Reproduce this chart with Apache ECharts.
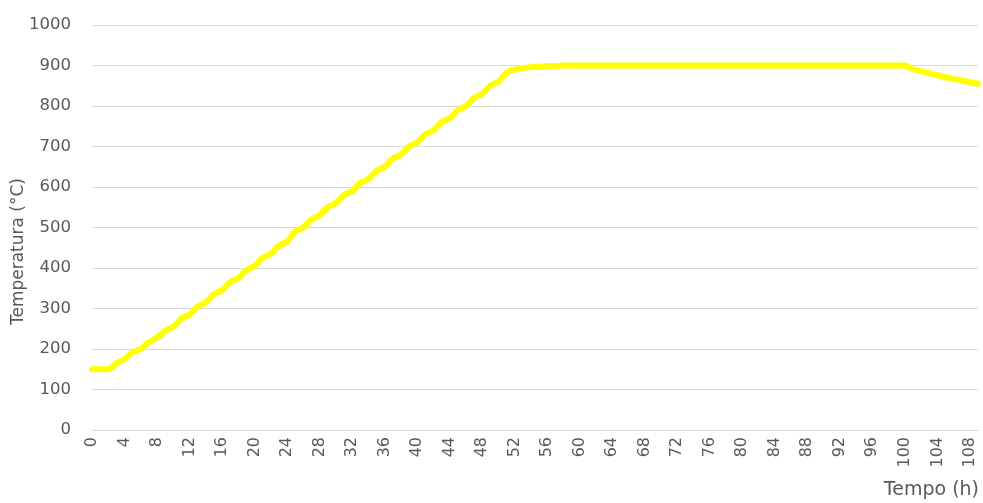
<!DOCTYPE html>
<html>
<head>
<meta charset="utf-8">
<script src="https://cdn.jsdelivr.net/npm/echarts@6/dist/echarts.min.js"></script>
<style>
  html, body { margin: 0; padding: 0; background: #fff; }
  #chart { width: 983px; height: 503px; }
</style>
</head>
<body>
<div id="chart"></div>
<script>
// Hours of the heating schedule (0 .. 109 h)
const hours = [];
for (let h = 0; h <= 109; h++) hours.push(String(h));

// Furnace temperature (°C) at each hour
const temperature = [
  150, 150, 150, 165, 175, 192, 200, 217, 228, 245,
  255, 275, 285, 305, 315, 335, 345, 365, 375, 395,
  405, 425, 435, 455, 465, 490, 500, 520, 530, 550,
  560, 580, 590, 610, 620, 640, 650, 670, 680, 700,
  710, 730, 740, 760, 770, 790, 800, 820, 830, 850,
  860, 882, 890, 894, 896, 897, 898, 899, 900, 900,
  900, 900, 900, 900, 900, 900, 900, 900, 900, 900,
  900, 900, 900, 900, 900, 900, 900, 900, 900, 900,
  900, 900, 900, 900, 900, 900, 900, 900, 900, 900,
  900, 900, 900, 900, 900, 900, 900, 900, 900, 900,
  900, 891, 886, 881, 876, 871, 867, 863, 859, 855
];

const yTicks = { min: 0, max: 1000, step: 100 };
const xAxisTitle = 'Tempo (h)';
const yAxisTitle = 'Temperatura (°C)';

const font = 'DejaVu Sans, sans-serif';
const textColor = '#595959';
const gridColor = '#d9d9d9';

const chart = echarts.init(document.getElementById('chart'));
chart.setOption({
  animation: false,
  grid: { left: 92, right: 5, top: 25, bottom: 73, containLabel: false },
  xAxis: {
    type: 'category',
    data: hours,
    boundaryGap: false,
    axisLine: { show: true, lineStyle: { color: gridColor, width: 1 } },
    axisTick: { show: false },
    axisLabel: {
      interval: 3,
      rotate: 90,
      color: textColor,
      fontFamily: font,
      fontSize: 16,
      margin: 7
    },
    splitLine: { show: false }
  },
  yAxis: {
    type: 'value',
    min: yTicks.min,
    max: yTicks.max,
    interval: yTicks.step,
    axisLine: { show: false },
    axisTick: { show: false },
    axisLabel: {
      color: textColor,
      fontFamily: font,
      fontSize: 16.5,
      margin: 21,
      formatter: (v) => String(v)
    },
    splitLine: { lineStyle: { color: gridColor, width: 1 } }
  },
  graphic: [
    {
      type: 'text',
      right: 4,
      top: 481,
      style: { text: xAxisTitle, fill: textColor, font: '19px ' + font }
    },
    {
      type: 'text',
      left: 10,
      top: 178,
      rotation: Math.PI / 2,
      style: { text: yAxisTitle, fill: textColor, font: '17px ' + font }
    }
  ],
  series: [{
    type: 'line',
    data: temperature,
    smooth: 0.35,
    showSymbol: false,
    lineStyle: { color: '#ffff00', width: 6, cap: 'round', join: 'round' }
  }]
});
</script>
</body>
</html>
